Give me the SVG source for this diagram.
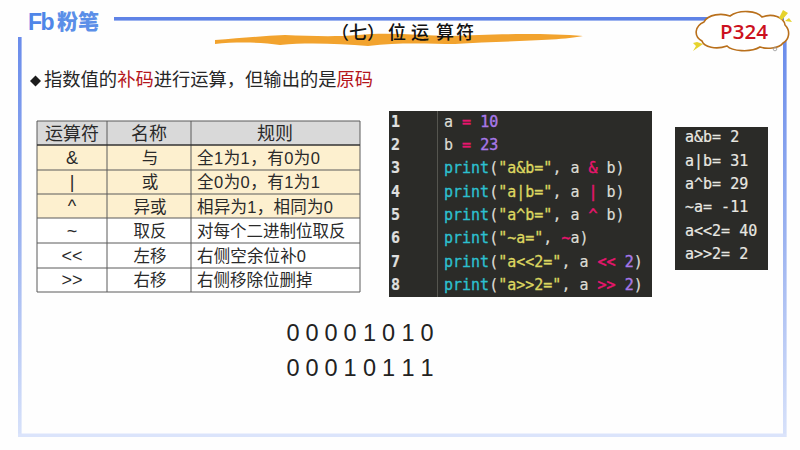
<svg xmlns="http://www.w3.org/2000/svg" width="800" height="450" viewBox="0 0 800 450">
<style>
.cjk{font-family:"Liberation Sans","Noto Sans CJK SC",sans-serif;fill:#2a2a2a}
.h{font-size:18px;text-anchor:middle}
.n{font-size:16.5px;text-anchor:middle}
.r{font-size:16.5px}
.sym{font-family:"Liberation Sans","Noto Sans CJK SC",sans-serif;font-size:18px;text-anchor:middle;fill:#2a2a2a}
.line{stroke:#5a5a5a;stroke-width:1;fill:none}
.mono{font-family:"DejaVu Sans Mono",monospace;font-size:15px;font-weight:400;fill:#dcdcd4;stroke:#dcdcd4;stroke-width:.2}
.ln{fill:#e0e0e0;font-weight:700}
.kw{fill:#e8156e;stroke:#e8156e;stroke-width:.4}
.num{fill:#a878e8;stroke:#a878e8;stroke-width:.4}
.fn{fill:#2cc0d0;stroke:#2cc0d0;stroke-width:.3}
.str{fill:#dcd660;stroke:#dcd660;stroke-width:.3}
.out{font-family:"DejaVu Sans Mono",monospace;font-size:15px;fill:#e8e8e2;stroke:#e8e8e2;stroke-width:.2}
.bit{font-family:"Liberation Sans",sans-serif;font-size:23.5px;fill:#222}
</style>
<defs>
<linearGradient id="fade" x1="0" y1="0" x2="0" y2="1">
<stop offset="0" stop-color="#6a8ceb"/><stop offset="0.5" stop-color="#9cb3f0"/><stop offset="1" stop-color="#d8e2fa"/>
</linearGradient>
</defs>
<rect width="800" height="450" fill="#fefefe"/>

<g id="frame">
<rect x="114" y="17" width="670" height="3.6" fill="#5f83e6"/>
<rect x="18" y="37" width="3.6" height="400" fill="url(#fade)"/>
<rect x="783" y="40" width="3.6" height="397" fill="url(#fade)"/>
<rect x="18" y="433.500" width="768" height="3.500" fill="#dbe4fb"/>
</g>

<g id="logo">
<text x="28" y="30" font-family="Liberation Sans,sans-serif" font-weight="700" font-size="23" letter-spacing="-1.500" fill="#4f86e8">Fb</text>
<text x="57" y="29" font-family="Noto Sans CJK SC,sans-serif" font-weight="900" font-size="21" fill="#5b8fe8">粉笔</text>
</g>

<g id="title">
<path d="M215 40 C240 38 262 36 285 35 C310 36 335 37 358 35 C385 32 420 35 450 36 C490 34 545 33 583 36 C560 41 500 41 455 44 C430 44 400 42 368 46 C340 44 310 42 280 45 C260 42 235 42 215 44Z" fill="#f2a32e"/>
<text font-family="Noto Sans CJK SC,sans-serif" font-size="18" font-weight="500" fill="#111" y="39" x="331 349 367 388 411 436 456">（七）位运算符</text>
</g>

<g id="badge">
<path d="M704 22 C708 14 722 13 730 16 C740 9 757 11 762 17 C772 13 784 17 785 25 C791 31 789 40 783 43 C779 49 766 49 760 47 C750 53 732 51 727 46 C716 50 704 47 702 41 C693 36 695 26 704 22Z" fill="#fff" stroke="#b9701c" stroke-width="1.600"/>
<path d="M697 42 L703 44 L693 51 L696 46 L693 43Z" fill="#e6d32e"/>
<path d="M783 10 L788 13 L782 20 L779 18Z M789 18 L792 22 L785 21Z" fill="#e6d32e"/>
<circle cx="775" cy="49" r="1.800" fill="none" stroke="#999" stroke-width="0.800"/>
<text x="744" y="39" text-anchor="middle" font-family="Open Sans,Noto Sans,sans-serif" font-weight="600" font-size="20.500" fill="#cc1020">P324</text>
</g>

<g id="heading">
<path d="M30 81 L35.500 75.500 L41 81 L35.500 86.500Z" fill="#1c1c1c"/>
<text x="44" y="86" font-family="Noto Sans CJK SC,sans-serif" font-size="18.300" fill="#262626">指数值的<tspan fill="#b5161c">补码</tspan>进行运算，但输出的是<tspan fill="#b5161c">原码</tspan></text>
</g>

<g id="table">
<rect x="37" y="121" width="323" height="24" fill="#d9d9d9"/>
<rect x="37" y="145" width="323" height="73" fill="#fdf0cf"/>
<rect x="37" y="218" width="323" height="74" fill="#ffffff"/>
<path class="line" d="M37 121H360V292H37Z M107 121V292 M191 121V292 M37 170H360 M37 194H360 M37 218H360 M37 243H360 M37 268H360"/>
<path d="M37 145H360" stroke="#333" stroke-width="1.600"/>
<g class="cjk">
<text class="h" x="72" y="140">运算符</text><text class="h" x="149" y="140">名称</text><text class="h" x="275" y="140">规则</text>
<text class="n" x="150" y="164">与</text><text class="n" x="150" y="188">或</text><text class="n" x="150" y="213">异或</text><text class="n" x="150" y="237">取反</text><text class="n" x="150" y="262">左移</text><text class="n" x="150" y="286">右移</text>
<text class="r" x="197" y="164" textLength="123">全1为1，有0为0</text><text class="r" x="197" y="188" textLength="123">全0为0，有1为1</text><text class="r" x="197" y="213" textLength="136">相异为1，相同为0</text><text class="r" x="197" y="237">对每个二进制位取反</text><text class="r" x="197" y="262" textLength="109">右侧空余位补0</text><text class="r" x="197" y="286">右侧移除位删掉</text>
</g>
<text class="sym" x="72" y="164">&amp;</text><text class="sym" x="72" y="188">|</text><text class="sym" x="72" y="212">^</text><text class="sym" x="72" y="237">~</text><text class="sym" x="72" y="262">&lt;&lt;</text><text class="sym" x="72" y="286">&gt;&gt;</text>
</g>

<g id="code">
<rect x="389" y="111" width="263" height="186" fill="#2b2b28"/>
<path d="M437.500 111V297" stroke="#55554f" stroke-width="1"/>
<g class="mono">
<g class="ln"><text x="391" y="127">1</text><text x="391" y="150">2</text><text x="391" y="173">3</text><text x="391" y="197">4</text><text x="391" y="220">5</text><text x="391" y="243">6</text><text x="391" y="267">7</text><text x="391" y="290">8</text></g>
<text x="444" y="127" xml:space="preserve">a <tspan class="kw">=</tspan> <tspan class="num">10</tspan></text>
<text x="444" y="150" xml:space="preserve">b <tspan class="kw">=</tspan> <tspan class="num">23</tspan></text>
<text x="444" y="173" xml:space="preserve"><tspan class="fn">print</tspan>(<tspan class="str">"a&amp;b="</tspan>, a <tspan class="kw">&amp;</tspan> b)</text>
<text x="444" y="197" xml:space="preserve"><tspan class="fn">print</tspan>(<tspan class="str">"a|b="</tspan>, a <tspan class="kw">|</tspan> b)</text>
<text x="444" y="220" xml:space="preserve"><tspan class="fn">print</tspan>(<tspan class="str">"a^b="</tspan>, a <tspan class="kw">^</tspan> b)</text>
<text x="444" y="243" xml:space="preserve"><tspan class="fn">print</tspan>(<tspan class="str">"~a="</tspan>, <tspan class="kw">~</tspan>a)</text>
<text x="444" y="267" xml:space="preserve"><tspan class="fn">print</tspan>(<tspan class="str">"a&lt;&lt;2="</tspan>, a <tspan class="kw">&lt;&lt;</tspan> <tspan class="num">2</tspan>)</text>
<text x="444" y="290" xml:space="preserve"><tspan class="fn">print</tspan>(<tspan class="str">"a&gt;&gt;2="</tspan>, a <tspan class="kw">&gt;&gt;</tspan> <tspan class="num">2</tspan>)</text>
</g>
</g>

<g id="output">
<rect x="675" y="127" width="93" height="143" fill="#2b2b28"/>
<g class="out">
<text x="685" y="142">a&amp;b= 2</text><text x="685" y="166">a|b= 31</text><text x="685" y="189">a^b= 29</text><text x="685" y="212">~a= -11</text><text x="685" y="236">a&lt;&lt;2= 40</text><text x="685" y="259">a&gt;&gt;2= 2</text>
</g>
</g>

<g id="bits">
<text class="bit" text-anchor="middle" y="341" x="293 312 331 350 369.500 388.500 408 427">00001010</text>
<text class="bit" text-anchor="middle" y="376" x="293 312 331 350 369.500 388.500 408 427">00010111</text>
</g>
</svg>
